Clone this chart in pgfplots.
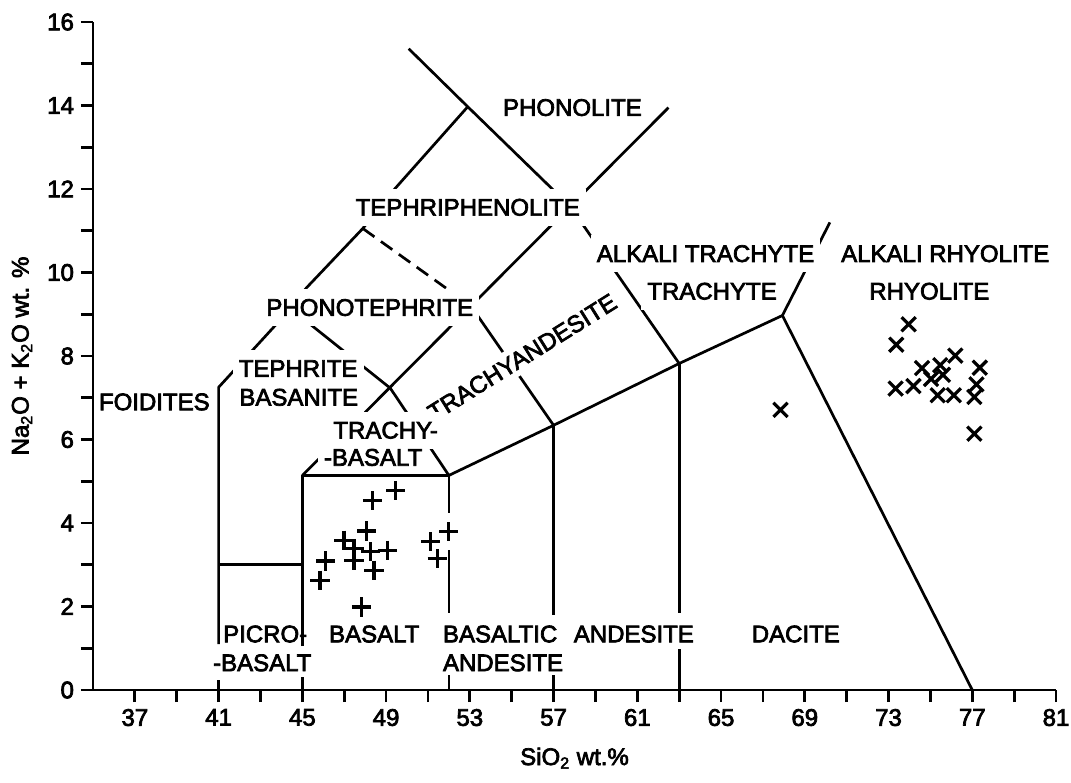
\documentclass[border=0pt]{standalone}
\usepackage{fontspec}
\setmainfont{Liberation Sans}[BoldFont={Liberation Sans}, BoldFeatures={FakeBold=3}]
\usepackage{pgfplots}
\pgfplotsset{compat=1.18}
\newcommand\lf{\fontsize{12pt}{14pt}\selectfont\bfseries}
\begin{document}
\begin{tikzpicture}[
  lbl/.style={font=\lf, fill=white, inner xsep=3pt, inner ysep=5pt},
  blbl/.style={font=\lf, inner sep=0pt, anchor=west}]
\begin{axis}[name=ax, scale only axis, width=481.5pt, height=334pt,
  xmin=35, xmax=81, ymin=0, ymax=16,
  axis lines*=left, axis line style={line width=1.4pt},
  xtick={37,41,...,81}, ytick={0,2,...,16},
  minor x tick num=1, minor y tick num=1,
  tick align=outside, major tick length=6pt, minor tick length=6pt,
  every tick/.append style={black, line width=1.4pt},
  tick label style={font=\lf},
  /pgf/number format/assume math mode=true,
  xlabel={SiO\textsubscript{2} wt.\%},
  ylabel={Na\textsubscript{2}O + K\textsubscript{2}O wt. \%},
  label style={font=\lf},
  xlabel style={at={(axis description cs:0.5,-0.102)}, anchor=center},
  ylabel style={at={(axis description cs:-0.0737,0.5)}, anchor=center},
  clip=false,
  bl/.style={black, line width=1.35pt, no markers, line join=round}]
% field boundaries
\addplot[bl] coordinates {(41,1.1) (41,7.25) (43.83,8.8) (45.21,9.64) (47.88,11.05) (49.41,12.0) (52.9,13.97)};
\addplot[bl] coordinates {(41,0) (41,0.25)};
\addplot[bl] coordinates {(41,3) (45,3)};
\addplot[bl] coordinates {(50.08,15.36) (52.9,13.97) (57.8,11.58) (63,7.82)};
\addplot[bl] coordinates {(45,5.14) (62.49,13.95)};
\addplot[bl] coordinates {(44.4,9.15) (49.2,7.23) (52,5.14)};
\addplot[bl, dash pattern=on 7pt off 4pt] coordinates {(47.9,11.05) (53.05,9.2)};
\addplot[bl] coordinates {(53.05,9.2) (57,6.34)};
\addplot[bl] coordinates {(57,6.34) (63,7.82) (67.93,8.97) (77,0)};
\addplot[bl] coordinates {(67.93,8.97) (70.2,11.2)};
\addplot[bl] coordinates {(45,1.05) (45,5.14)};
\addplot[bl] coordinates {(45,0) (45,0.3)};
\addplot[bl] coordinates {(52,5.14) (52,4.23)};
\addplot[bl] coordinates {(52,3.35) (52,1.84)};
\addplot[bl] coordinates {(52,0) (52,0.36)};
\addplot[bl] coordinates {(57,6.34) (57,1.79)};
\addplot[bl] coordinates {(57,0) (57,0.36)};
\addplot[bl] coordinates {(63,7.82) (63,1.84)};
\addplot[bl] coordinates {(63,0) (63,0.98)};
% data
\addplot[only marks, mark=+, mark size=4.8pt, black, line width=1.6pt] coordinates {
(49.46,4.78) (48.35,4.53) (48.07,3.81) (52.0,3.79) (51.13,3.55) (46.99,3.59)
(47.47,3.39) (48.26,3.31) (49.06,3.35) (51.44,3.15) (47.47,3.11) (46.12,3.09)
(48.42,2.87) (45.84,2.63) (47.82,1.99)};
\addplot[only marks, mark=x, mark size=5pt, black, line width=1.6pt] coordinates {
(73.96,8.76) (73.37,8.27) (76.19,8.01) (74.6,7.71) (75.47,7.78) (77.36,7.72)
(73.34,7.22) (74.19,7.28) (75.03,7.45) (75.6,7.55) (75.35,7.06) (76.12,7.06)
(77.2,7.32) (77.1,7.02) (77.1,6.14) (67.84,6.71)};
% labels
\node[lbl, rotate=32, inner ysep=3pt] at (axis cs:55.5,7.97) {TRACHYANDESITE};
\node[lbl] at (axis cs:57.9,13.95) {PHONOLITE};
\node[lbl] at (axis cs:52.9,11.56) {TEPHRIPHENOLITE};
\node[lbl] at (axis cs:48.22,9.16) {PHONOTEPHRITE};
\node[lbl] at (axis cs:44.8,7.70) {TEPHRITE};
\node[lbl] at (axis cs:44.83,7.01) {BASANITE};
\node[font=\lf] at (axis cs:37.93,6.9) {FOIDITES};
\node[lbl] at (axis cs:48.98,6.22) {TRACHY-};
\node[lbl, inner ysep=2.5pt] at (axis cs:48.38,5.57) {-BASALT};
\node[lbl] at (axis cs:64.26,10.45) {ALKALI TRACHYTE};
\node[lbl] at (axis cs:64.57,9.55) {TRACHYTE};
\node[lbl] at (axis cs:75.71,10.45) {ALKALI RHYOLITE};
\node[lbl] at (axis cs:74.95,9.55) {RHYOLITE};
\node[blbl] at (axis cs:41.2,1.34) {PICRO-};
\node[blbl] at (axis cs:40.72,0.65) {-BASALT};
\node[blbl] at (axis cs:46.26,1.34) {BASALT};
\node[blbl] at (axis cs:51.7,1.34) {BASALTIC};
\node[blbl] at (axis cs:51.7,0.65) {ANDESITE};
\node[blbl] at (axis cs:57.95,1.34) {ANDESITE};
\node[blbl] at (axis cs:66.45,1.34) {DACITE};
% basalt box top drawn last so no label covers it
\addplot[bl] coordinates {(45,5.14) (52,5.14) (57,6.34)};
\end{axis}
\pgfresetboundingbox
\path[use as bounding box] ([shift={(-46.5pt,-46pt)}]ax.south west) rectangle ([shift={(7.5pt,11pt)}]ax.north east);
\end{tikzpicture}
\end{document}
